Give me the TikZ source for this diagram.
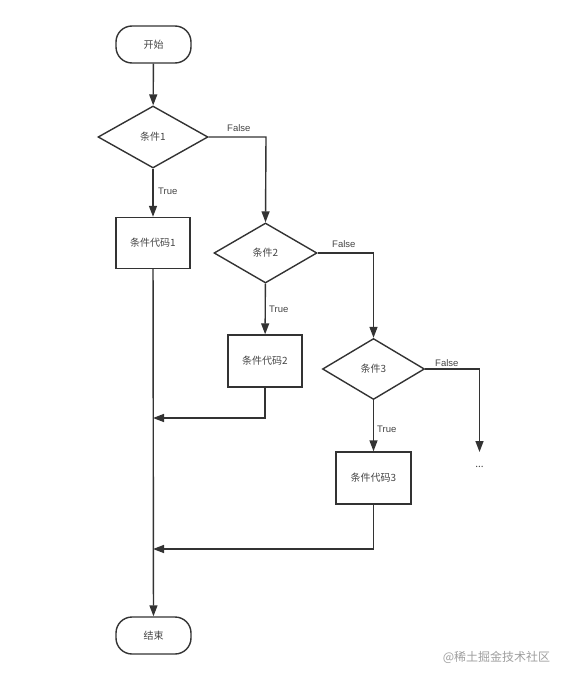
\documentclass[tikz,border=0pt]{standalone}
\usepackage{fontspec}
\setmainfont{Liberation Sans}
\newfontfamily\cjk{Noto Sans CJK SC}
\usetikzlibrary{shapes.geometric,arrows.meta,positioning}
\definecolor{ln}{HTML}{333333}
\definecolor{tx}{HTML}{444444}
\begin{document}
\begin{tikzpicture}[x=1pt,y=-1pt,
  every node/.style={font=\cjk\fontsize{10}{11}\selectfont, text=tx},
  term/.style={draw=ln, line width=1.4pt, rounded corners=16pt, minimum width=75pt, minimum height=37pt, inner sep=0pt},
  dec/.style={draw=ln, line width=1.4pt, diamond, aspect=1.8, minimum width=110pt, minimum height=62pt, inner sep=0pt},
  proc/.style={draw=ln, line width=1.4pt, minimum width=74pt, minimum height=52pt, inner sep=0pt},
  conn/.style={draw=ln, line width=1.4pt, -{Triangle[length=11pt,width=8pt]}},
  lab/.style={font=\fontsize{9.5}{11}\selectfont, text=tx, inner sep=0pt}
]
\useasboundingbox (0,0) rectangle (568,682);
\node[term] (start) at (153.5,44.5) {开始};
\node[dec] (c1) at (153,137) {条件1};
\node[proc, minimum height=51pt] (b1) at (153,243) {条件代码1};
\node[dec, minimum width=103pt, minimum height=60pt] (c2) at (265.5,253) {条件2};
\node[proc] (b2) at (265,361) {条件代码2};
\node[dec, minimum width=102pt, minimum height=61pt] (c3) at (373.5,369) {条件3};
\node[proc, minimum width=75pt] (b3) at (373.5,478) {条件代码3};
\node[term] (end) at (153.5,635.5) {结束};
\node[inner sep=0pt] (dots) at (479.5,467) {...};
\node[font=\cjk\fontsize{12}{13}\selectfont, text=black!38, inner sep=0pt] (wm) at (496.5,657) {@稀土掘金技术社区};

\coordinate (f1) at (266,137);
\coordinate (f2) at (373.5,253);
\coordinate (f3) at (479.5,369);
\coordinate (f3e) at (479.5,452);
\coordinate (j2) at (265,418);
\coordinate (j2e) at (153,418);
\coordinate (j3) at (373.5,549);
\coordinate (j3e) at (153,549);

\draw[conn] (start) -- (c1);
\draw[conn] (c1) -- (b1);
\draw[conn] (c1.east) -- (f1) -- (c2.north);
\draw[conn] (c2) -- (b2);
\draw[conn] (c2.east) -- (f2) -- (c3.north);
\draw[conn] (c3) -- (b3);
\draw[conn] (c3.east) -- (f3) -- (f3e);
\draw[conn] (b1) -- (end);
\draw[conn] (b2.south) -- (j2) -- (j2e);
\draw[conn] (b3.south) -- (j3) -- (j3e);

\node[lab, anchor=west] (t1) at (158,191) {True};
\node[lab, anchor=west] (t2) at (269,309) {True};
\node[lab, anchor=west] (t3) at (377,429) {True};
\node[lab, anchor=west] (fl1) at (227,128) {False};
\node[lab, anchor=west] (fl2) at (332,244) {False};
\node[lab, anchor=west] (fl3) at (435,363) {False};
\end{tikzpicture}
\end{document}
